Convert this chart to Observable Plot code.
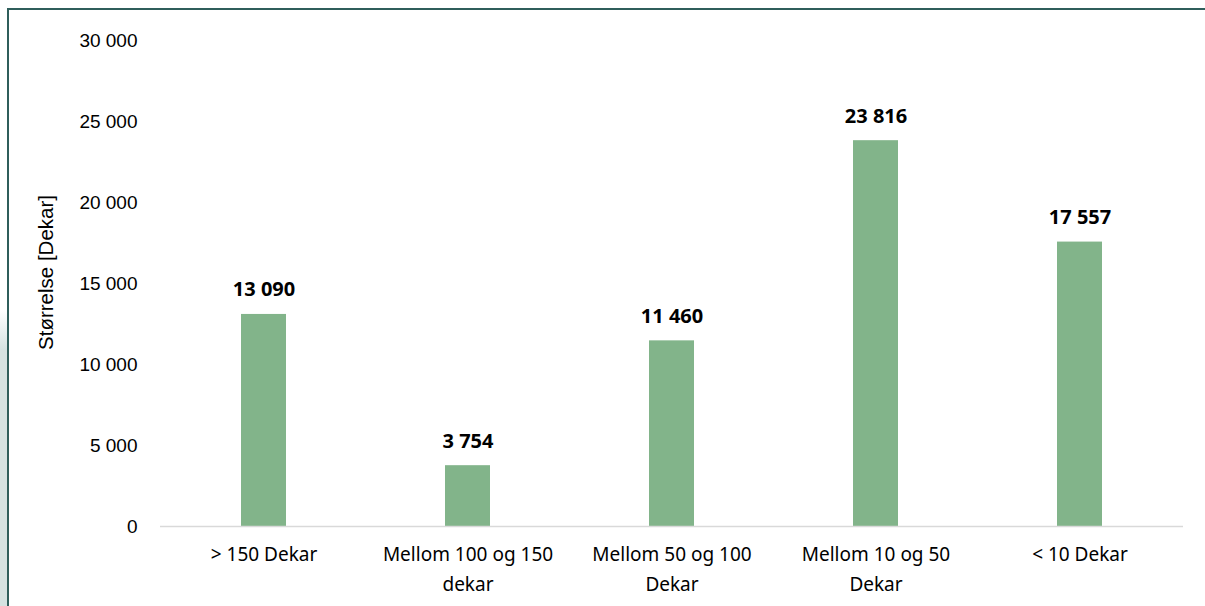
<!DOCTYPE html>
<html>
<head>
<meta charset="utf-8">
<script src="https://cdn.jsdelivr.net/npm/d3@7"></script>
<script src="https://cdn.jsdelivr.net/npm/@observablehq/plot@0.6"></script>
<style>
  html, body { margin: 0; padding: 0; background: #fff; }
  #wrap { position: relative; width: 1205px; height: 606px; overflow: hidden; }
  #strip { position: absolute; left: 0; top: 310px; width: 7px; height: 296px;
           background: linear-gradient(to bottom, rgba(213,226,225,0), #d5e2e1 40px); }
  #frame { position: absolute; left: 7px; top: 8px; width: 1200px; height: 600px;
           border-left: 2px solid #2f5e5b; border-top: 2px solid #2f5e5b; box-sizing: border-box; }
  #chart { position: absolute; left: 0; top: 0; }
</style>
</head>
<body>
<div id="wrap">
  <div id="strip"></div>
  <div id="chart"></div>
  <div id="frame"></div>
</div>
<script>
const categories = [
  "> 150 Dekar",
  "Mellom 100 og 150 dekar",
  "Mellom 50 og 100 Dekar",
  "Mellom 10 og 50 Dekar",
  "< 10 Dekar"
];
const categoryLabels = [
  "> 150 Dekar",
  "Mellom 100 og 150\ndekar",
  "Mellom 50 og 100\nDekar",
  "Mellom 10 og 50\nDekar",
  "< 10 Dekar"
];
const values = [13090, 3754, 11460, 23816, 17557];
const yTicks = [0, 5000, 10000, 15000, 20000, 25000, 30000];
const yTitle = "Størrelse [Dekar]";

const data = categories.map((c, i) => ({category: c, value: values[i]}));
const labelOf = new Map(categories.map((c, i) => [c, categoryLabels[i]]));
const fmtSp = v => d3.format(",")(v).replace(/,/g, " ");

const chart = Plot.plot({
  width: 1205,
  height: 606,
  marginTop: 40,
  marginBottom: 80,
  marginLeft: 160,
  marginRight: 22,
  style: {fontFamily: "'Liberation Sans', Arial, sans-serif", fontSize: "19px", color: "#000", background: "transparent"},
  x: {domain: categories, paddingInner: 0.78, paddingOuter: 0.39, label: null},
  y: {domain: [0, 30000], label: null},
  marks: [
    Plot.axisY({ticks: yTicks, tickSize: 0, tickPadding: 23, tickFormat: fmtSp, label: null,
      fontSize: 19, fontFamily: "'Liberation Sans', Arial, sans-serif", fill: "#000"}),
    Plot.axisX({tickSize: 0, tickPadding: 13, tickFormat: d => labelOf.get(d), label: null,
      fontSize: 19, lineHeight: 1.58, fontFamily: "'Noto Sans', 'Open Sans', sans-serif", fill: "#000"}),
    Plot.barY(data, {x: "category", y: "value", fill: "#82b48a"}),
    Plot.ruleY([0], {stroke: "#d9d9d9", strokeWidth: 1.5}),
    Plot.text(data, {x: "category", y: "value", text: d => fmtSp(d.value), lineAnchor: "bottom", dy: -18,
      fontWeight: "bold", fontSize: 20, fontFamily: "'Noto Sans', 'Open Sans', sans-serif", fill: "#000"}),
    Plot.text([15680], {y: d => d, frameAnchor: "left", textAnchor: "middle", dx: -114, rotate: -90, text: () => yTitle,
      fontSize: 20.5, fontFamily: "'Liberation Sans', Arial, sans-serif", fill: "#000"})
  ]
});
document.getElementById("chart").appendChild(chart);
</script>
</body>
</html>
